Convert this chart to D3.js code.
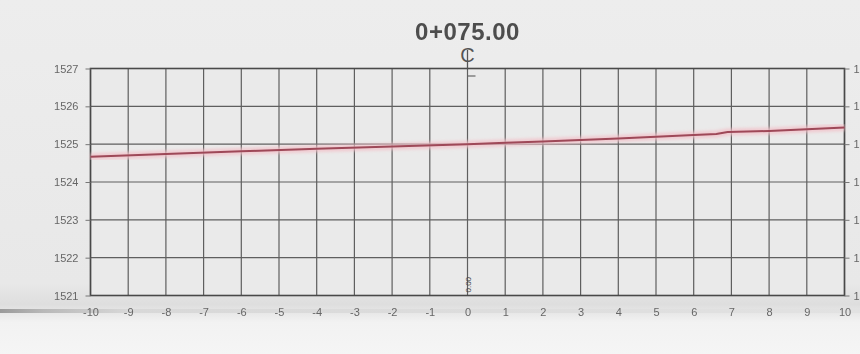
<!DOCTYPE html>
<html><head><meta charset="utf-8">
<script src="https://cdn.jsdelivr.net/npm/d3@7"></script>
<style>
html,body{margin:0;padding:0;background:#ececec;}
svg{display:block;}
</style></head>
<body>
<svg id="c" width="860" height="354"></svg>
<script>
const title = "0+075.00";
const offsets = [-10, -8, -6, -4, -2, 0, 2, 4, 6, 6.6, 6.9, 8, 10];
const elevations = [1524.67, 1524.74, 1524.81, 1524.88, 1524.94, 1525.0, 1525.07, 1525.15, 1525.24, 1525.27, 1525.32, 1525.35, 1525.44];
const xTicks = d3.range(-10, 11, 1);
const yTicks = [1521, 1522, 1523, 1524, 1525, 1526, 1527];

const svg = d3.select("#c");
const W = 860, H = 354;
const m = {left: 90.5, right: 844.5, top: 68.5, bottom: 295.5};

const defs = svg.append("defs");
const g1 = defs.append("linearGradient").attr("id","bg").attr("x1",0).attr("y1",0).attr("x2",0).attr("y2",1);
g1.append("stop").attr("offset","0%").attr("stop-color","#ededed");
g1.append("stop").attr("offset","80%").attr("stop-color","#e8e8e8");
g1.append("stop").attr("offset","86%").attr("stop-color","#dedede");
g1.append("stop").attr("offset","91%").attr("stop-color","#f2f2f2");
g1.append("stop").attr("offset","100%").attr("stop-color","#f5f5f5");
svg.append("rect").attr("width",W).attr("height",H).attr("fill","url(#bg)");
const g2 = defs.append("linearGradient").attr("id","band").attr("x1",0).attr("y1",0).attr("x2",1).attr("y2",0);
g2.append("stop").attr("offset","0%").attr("stop-color","#9a9a9a");
g2.append("stop").attr("offset","5%").attr("stop-color","#b8b8b8");
g2.append("stop").attr("offset","15%").attr("stop-color","#d8d8d8");
g2.append("stop").attr("offset","100%").attr("stop-color","#e2e2e2");
svg.append("rect").attr("x",0).attr("y",309).attr("width",W).attr("height",4).attr("fill","url(#band)");
const blur = defs.append("filter").attr("id","blur");
blur.append("feGaussianBlur").attr("stdDeviation",0.5);
const blur2 = defs.append("filter").attr("id","blur2");
blur2.append("feGaussianBlur").attr("stdDeviation",1.6);

const x = d3.scaleLinear().domain([-10, 10]).range([m.left, m.right]);
const y = d3.scaleLinear().domain([1521, 1527]).range([m.bottom, m.top]);

const plot = svg.append("g").attr("filter","url(#blur)");
plot.append("rect").attr("x",m.left).attr("y",m.top).attr("width",m.right-m.left).attr("height",m.bottom-m.top).attr("fill","#eaeaea");

plot.append("g").selectAll("line").data(xTicks).join("line")
  .attr("x1",d=>x(d)).attr("x2",d=>x(d)).attr("y1",m.top).attr("y2",m.bottom)
  .attr("stroke","#5e5e5e").attr("stroke-width",1.2);
plot.append("g").selectAll("line").data(yTicks).join("line")
  .attr("x1",m.left).attr("x2",m.right).attr("y1",d=>y(d)).attr("y2",d=>y(d))
  .attr("stroke","#5e5e5e").attr("stroke-width",1.2);
plot.append("rect").attr("x",m.left).attr("y",m.top).attr("width",m.right-m.left).attr("height",m.bottom-m.top)
  .attr("fill","none").attr("stroke","#4a4a4a").attr("stroke-width",1.6);

plot.append("line").attr("x1",x(0)).attr("x2",x(0)).attr("y1",50).attr("y2",m.top).attr("stroke","#555").attr("stroke-width",1.3);
plot.append("line").attr("x1",x(0)).attr("x2",x(0)+8).attr("y1",76).attr("y2",76).attr("stroke","#666").attr("stroke-width",1.2);
svg.append("text").attr("x",x(0)).attr("y",62).attr("text-anchor","middle")
  .attr("font-family","Liberation Sans, Arial, sans-serif").attr("font-size",20).attr("fill","#555").text("C");

const line = d3.line().x((d,i)=>x(offsets[i])).y(d=>y(d));
svg.append("path").datum(elevations).attr("d",line).attr("fill","none")
  .attr("stroke","#f2c0c8").attr("stroke-width",7).attr("opacity",0.75).attr("filter","url(#blur2)");
svg.append("path").datum(elevations).attr("d",line).attr("fill","none")
  .attr("stroke","#9e4858").attr("stroke-width",2).attr("filter","url(#blur)");

svg.append("text").attr("transform",`translate(${x(0)+3},${m.bottom-3}) rotate(-90)`)
  .attr("font-family","Liberation Sans, Arial, sans-serif").attr("font-size",8).attr("fill","#444").text("0.00");

const yAxisL = svg.append("g").attr("transform",`translate(${m.left},0)`)
  .call(d3.axisLeft(y).tickValues(yTicks).tickFormat(d3.format("d")).tickSize(5).tickPadding(7));
const yAxisR = svg.append("g").attr("transform",`translate(${m.right},0)`)
  .call(d3.axisRight(y).tickValues(yTicks).tickFormat(d3.format("d")).tickSize(5).tickPadding(4));
const xAxis = svg.append("g").attr("transform",`translate(0,${m.bottom})`)
  .call(d3.axisBottom(x).tickValues(xTicks).tickFormat(d=>d<0?"-"+Math.abs(d):d).tickSize(0).tickPadding(13));
[yAxisL,yAxisR,xAxis].forEach(a=>{
  a.select(".domain").remove();
  a.selectAll("line").attr("stroke","#777");
  a.selectAll("text").attr("font-family","Liberation Sans Narrow, Liberation Sans, Arial, sans-serif")
    .attr("font-size",11).attr("fill","#666").attr("filter","url(#blur)");
});

svg.append("text").attr("x",x(0)).attr("y",40).attr("text-anchor","middle")
  .attr("font-family","Liberation Sans, Arial, sans-serif").attr("font-weight","bold")
  .attr("font-size",24).attr("letter-spacing",0.5).attr("fill","#4e4e4e").attr("filter","url(#blur)").text(title);
</script>
</body></html>
